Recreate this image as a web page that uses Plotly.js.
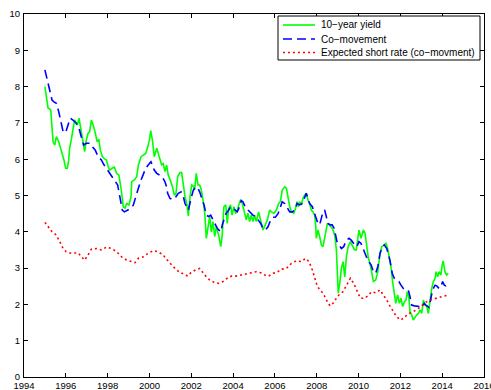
<!DOCTYPE html>
<html>
<head>
<meta charset="utf-8">
<script src="https://cdn.plot.ly/plotly-3.0.1.min.js"></script>
<style>html,body{margin:0;padding:0;background:#fff;}#chart{width:491px;height:390px;}</style>
</head>
<body>
<div id="chart"></div>
<script>
// 10-year yield (decimal year, percent)
const yieldX = [1995.00,1995.15,1995.28,1995.39,1995.47,1995.55,1995.66,1995.79,1995.91,1995.99,1996.07,1996.14,1996.18,1996.26,1996.34,1996.42,1996.55,1996.63,1996.74,1996.82,1996.90,1996.98,1997.06,1997.14,1997.22,1997.30,1997.38,1997.50,1997.58,1997.65,1997.75,1997.87,1997.94,1998.03,1998.10,1998.21,1998.32,1998.43,1998.54,1998.64,1998.75,1998.83,1998.91,1999.02,1999.12,1999.15,1999.28,1999.39,1999.47,1999.60,1999.71,1999.82,1999.92,2000.00,2000.06,2000.14,2000.23,2000.35,2000.42,2000.50,2000.58,2000.66,2000.74,2000.82,2000.90,2000.99,2001.10,2001.19,2001.27,2001.35,2001.46,2001.54,2001.62,2001.70,2001.78,2001.86,2001.94,2002.02,2002.10,2002.16,2002.24,2002.32,2002.40,2002.48,2002.56,2002.64,2002.72,2002.80,2002.88,2002.96,2003.04,2003.12,2003.20,2003.31,2003.41,2003.48,2003.56,2003.65,2003.72,2003.79,2003.88,2003.95,2004.04,2004.12,2004.20,2004.27,2004.36,2004.44,2004.52,2004.63,2004.71,2004.79,2004.87,2004.95,2005.03,2005.11,2005.22,2005.32,2005.43,2005.54,2005.64,2005.75,2005.83,2005.96,2006.07,2006.18,2006.26,2006.35,2006.47,2006.55,2006.63,2006.71,2006.79,2006.90,2006.99,2007.06,2007.12,2007.18,2007.26,2007.34,2007.42,2007.50,2007.58,2007.66,2007.74,2007.82,2007.90,2007.95,2007.98,2008.06,2008.14,2008.22,2008.30,2008.35,2008.43,2008.51,2008.59,2008.65,2008.74,2008.81,2008.87,2008.94,2008.98,2009.03,2009.10,2009.18,2009.26,2009.34,2009.42,2009.50,2009.61,2009.70,2009.81,2009.89,2009.97,2010.02,2010.12,2010.23,2010.31,2010.39,2010.47,2010.55,2010.63,2010.71,2010.82,2010.92,2011.03,2011.11,2011.23,2011.31,2011.39,2011.47,2011.55,2011.63,2011.71,2011.78,2011.87,2011.95,2012.03,2012.11,2012.19,2012.27,2012.33,2012.41,2012.46,2012.54,2012.62,2012.70,2012.78,2012.86,2012.94,2013.02,2013.10,2013.18,2013.26,2013.34,2013.42,2013.50,2013.58,2013.66,2013.71,2013.78,2013.85,2013.94,2014.00,2014.05,2014.13,2014.21,2014.29];
const yieldY = [8.00,7.41,7.36,6.48,6.39,6.62,6.48,6.25,5.98,5.75,5.75,5.98,6.30,6.53,6.80,7.08,6.94,7.13,6.76,6.44,6.21,6.53,6.71,6.76,7.08,6.95,6.80,6.48,6.55,6.25,6.07,6.00,5.98,5.79,5.70,5.75,5.78,5.61,5.56,5.20,4.69,4.65,4.78,4.74,4.97,5.38,5.43,5.52,5.84,6.07,6.12,6.16,6.34,6.53,6.79,6.53,6.07,6.30,6.16,5.98,5.85,5.88,5.66,5.84,5.56,5.43,5.24,5.01,5.06,5.52,5.63,5.63,5.24,4.97,4.78,4.44,4.97,5.29,5.26,5.15,5.61,5.29,5.29,5.15,4.88,4.55,3.82,4.19,4.42,4.00,4.28,3.87,4.14,3.91,3.59,3.91,4.69,4.74,4.23,4.65,4.74,4.46,4.69,4.50,4.60,4.74,4.88,4.78,4.60,4.33,4.51,4.28,4.46,4.28,4.46,4.28,4.55,4.28,4.05,4.19,4.33,4.60,4.55,4.51,4.60,4.78,4.83,5.15,5.24,5.20,4.92,4.69,4.55,4.51,4.65,4.83,4.69,4.83,4.74,4.92,5.01,5.06,4.88,4.78,4.60,4.55,4.46,4.19,3.82,4.05,3.87,3.64,3.59,3.73,3.91,4.23,4.19,4.14,4.10,4.00,3.87,3.50,2.76,2.31,2.58,2.99,3.18,2.76,3.31,3.59,3.73,3.64,3.50,3.50,3.77,4.05,3.82,4.05,3.96,3.59,3.27,3.13,2.81,2.63,2.67,2.90,3.41,3.59,3.64,3.68,3.54,3.30,3.04,2.63,2.31,2.03,2.26,2.03,2.17,1.94,2.07,2.12,2.35,2.17,1.80,1.71,1.57,1.66,1.71,1.75,1.85,1.75,2.12,1.98,1.95,1.75,2.12,2.44,2.63,2.72,2.90,2.76,2.90,2.81,3.09,3.20,2.90,2.81,2.86];

// Co-movement
const comoveX = [1995.00,1995.23,1995.34,1995.43,1995.55,1995.66,1995.79,1995.87,1995.99,1996.10,1996.21,1996.34,1996.50,1996.63,1996.74,1996.85,1996.98,1997.14,1997.27,1997.41,1997.54,1997.70,1997.83,1997.94,1998.06,1998.21,1998.35,1998.48,1998.54,1998.64,1998.70,1998.80,1998.96,1999.12,1999.23,1999.34,1999.47,1999.60,1999.71,1999.82,1999.94,2000.07,2000.14,2000.23,2000.35,2000.50,2000.61,2000.74,2000.82,2000.87,2000.98,2001.14,2001.25,2001.38,2001.51,2001.62,2001.70,2001.78,2001.86,2001.99,2002.10,2002.20,2002.32,2002.40,2002.51,2002.61,2002.72,2002.83,2002.93,2003.04,2003.15,2003.24,2003.31,2003.43,2003.48,2003.60,2003.67,2003.79,2003.88,2003.99,2004.10,2004.20,2004.31,2004.39,2004.47,2004.58,2004.71,2004.84,2004.95,2005.08,2005.19,2005.32,2005.43,2005.54,2005.67,2005.80,2005.91,2006.02,2006.15,2006.23,2006.35,2006.47,2006.58,2006.71,2006.83,2006.95,2007.06,2007.18,2007.31,2007.42,2007.50,2007.58,2007.66,2007.79,2007.87,2007.95,2008.03,2008.14,2008.22,2008.30,2008.38,2008.46,2008.54,2008.65,2008.74,2008.83,2008.89,2008.97,2009.06,2009.18,2009.29,2009.42,2009.54,2009.65,2009.77,2009.89,2009.96,2010.02,2010.12,2010.23,2010.34,2010.47,2010.60,2010.71,2010.82,2010.92,2011.03,2011.14,2011.23,2011.35,2011.42,2011.50,2011.61,2011.71,2011.82,2011.93,2012.03,2012.14,2012.25,2012.38,2012.46,2012.54,2012.67,2012.83,2012.94,2013.05,2013.14,2013.22,2013.31,2013.37,2013.46,2013.54,2013.66,2013.74,2013.85,2013.94,2014.02,2014.10,2014.18,2014.29];
const comoveY = [8.46,7.91,7.63,7.58,7.54,7.31,6.99,6.76,6.73,6.94,7.13,7.08,6.99,6.85,6.62,6.39,6.44,6.44,6.34,6.25,6.07,5.98,5.84,5.75,5.66,5.52,5.43,5.29,5.10,4.83,4.60,4.55,4.60,4.65,4.74,4.97,5.20,5.43,5.61,5.75,5.84,5.93,5.84,5.70,5.61,5.56,5.52,5.38,5.24,5.06,4.92,4.89,4.95,5.06,5.10,4.97,4.78,4.69,4.60,4.92,5.15,5.24,5.20,5.10,4.92,4.74,4.46,4.42,4.46,4.33,4.19,4.10,4.05,4.00,4.19,4.42,4.51,4.60,4.69,4.65,4.60,4.55,4.69,4.86,4.83,4.69,4.60,4.51,4.46,4.42,4.33,4.23,4.10,4.05,4.14,4.33,4.40,4.40,4.50,4.65,4.83,4.78,4.69,4.55,4.55,4.60,4.78,4.74,4.78,4.97,5.06,4.92,4.78,4.69,4.55,4.42,4.28,4.19,4.42,4.55,4.60,4.42,4.23,4.19,4.19,4.10,3.91,3.73,3.64,3.54,3.59,3.77,3.82,3.77,3.68,3.59,3.64,3.73,3.68,3.54,3.36,3.18,3.09,2.90,2.86,3.04,3.41,3.59,3.64,3.54,3.41,3.22,2.86,2.72,2.67,2.63,2.53,2.44,2.42,2.40,2.21,1.98,1.96,1.96,1.94,1.92,2.03,1.98,1.94,1.92,2.17,2.40,2.53,2.51,2.44,2.49,2.63,2.53,2.51,2.56];

// Expected short rate (co-movement)
const shortX = [1995.00,1995.15,1995.34,1995.55,1995.71,1995.87,1996.02,1996.26,1996.58,1996.74,1996.90,1997.06,1997.22,1997.46,1997.70,1997.95,1998.19,1998.43,1998.67,1998.91,1999.15,1999.31,1999.47,1999.71,1999.94,2000.18,2000.42,2000.66,2000.82,2000.98,2001.14,2001.30,2001.46,2001.62,2001.83,2001.99,2002.20,2002.40,2002.56,2002.72,2002.88,2003.12,2003.31,2003.52,2003.72,2003.92,2004.15,2004.39,2004.63,2004.87,2005.11,2005.32,2005.51,2005.70,2005.91,2006.10,2006.30,2006.55,2006.79,2007.02,2007.26,2007.47,2007.63,2007.79,2007.90,2008.01,2008.14,2008.30,2008.43,2008.54,2008.65,2008.78,2008.94,2009.10,2009.26,2009.42,2009.61,2009.77,2009.93,2010.08,2010.21,2010.31,2010.47,2010.63,2010.82,2011.03,2011.18,2011.35,2011.50,2011.66,2011.82,2012.03,2012.22,2012.41,2012.62,2012.78,2012.94,2013.14,2013.34,2013.53,2013.74,2013.94,2014.13,2014.29];
const shortY = [4.26,4.14,4.00,3.91,3.73,3.54,3.45,3.41,3.42,3.31,3.22,3.36,3.52,3.54,3.50,3.58,3.54,3.45,3.31,3.22,3.18,3.15,3.27,3.31,3.41,3.48,3.45,3.36,3.24,3.13,3.04,2.95,2.88,2.84,2.78,2.88,2.95,2.99,2.86,2.76,2.67,2.60,2.58,2.63,2.72,2.78,2.78,2.81,2.84,2.86,2.90,2.87,2.81,2.78,2.86,2.88,2.97,2.99,3.13,3.20,3.18,3.27,3.18,2.95,2.72,2.53,2.40,2.31,2.17,2.03,1.96,2.03,2.17,2.29,2.35,2.53,2.72,2.58,2.35,2.18,2.17,2.17,2.26,2.35,2.32,2.40,2.26,2.12,1.96,1.80,1.66,1.57,1.66,1.75,1.80,1.85,1.92,2.03,2.10,2.14,2.17,2.20,2.23,2.26];

const seriesNames = ['10\u2212year yield', 'Co\u2212movement', 'Expected short rate (co\u2212movment)'];
const seriesColors = ['#00ff00', '#0000ff', '#ff0000'];
const seriesDash = ['solid', '9px,5px', '2px,3px'];
const xTicks = [1994,1996,1998,2000,2002,2004,2006,2008,2010,2012,2014,2016];
const yTicks = [0,1,2,3,4,5,6,7,8,9,10];

const FONT = 'Liberation Sans, Arial, Helvetica, sans-serif';
const seriesData = [[yieldX, yieldY], [comoveX, comoveY], [shortX, shortY]];
const traces = seriesData.map((d, i) => ({
  x: d[0], y: d[1], name: seriesNames[i], type: 'scatter', mode: 'lines',
  line: {color: seriesColors[i], width: 1.6, dash: seriesDash[i]}
}));

// Legend box drawn in paper coordinates (plot area: px 24..484, py 14..377)
const L = 24, R = 484, T = 14, B = 377;
const px = v => (v - L) / (R - L);
const py = v => (B - v) / (B - T);
const rowY = [25, 39, 52.5];
const shapes = [{
  type: 'rect', xref: 'paper', yref: 'paper',
  x0: px(278), x1: px(480), y0: py(60), y1: py(16),
  line: {color: '#000', width: 1}, fillcolor: '#fff', layer: 'above'
}];
const annotations = [];
rowY.forEach((yy, i) => {
  shapes.push({
    type: 'line', xref: 'paper', yref: 'paper', layer: 'above',
    x0: px(283), x1: px(315), y0: py(yy), y1: py(yy),
    line: {color: seriesColors[i], width: 1.6, dash: seriesDash[i]}
  });
  annotations.push({
    xref: 'paper', yref: 'paper', x: px(318.5), y: py(yy),
    xanchor: 'left', yanchor: 'middle', showarrow: false, text: seriesNames[i],
    font: {family: FONT, size: 10, color: '#000'}
  });
});

const axisCommon = {
  showgrid: false, zeroline: false, showline: true, linecolor: '#000', linewidth: 1,
  mirror: 'allticks', ticks: 'inside', ticklen: 4, tickcolor: '#000', tickwidth: 1,
  tickfont: {family: FONT, size: 9.5, color: '#000'}
};

const layout = {
  width: 491, height: 390,
  margin: {l: 24, r: 7, t: 14, b: 13, pad: 0},
  paper_bgcolor: '#fff', plot_bgcolor: '#fff',
  showlegend: false,
  shapes: shapes,
  annotations: annotations,
  xaxis: Object.assign({}, axisCommon, {
    range: [1994, 2016], tickmode: 'array', tickvals: xTicks, ticktext: xTicks.map(String),
    ticklabeloverflow: 'allow', ticklabelstandoff: 0.01
  }),
  yaxis: Object.assign({}, axisCommon, {
    range: [0, 10], tickmode: 'array', tickvals: yTicks, ticktext: yTicks.map(String),
    ticklabelstandoff: 1
  })
};

Plotly.newPlot('chart', traces, layout, {staticPlot: true, displayModeBar: false});
</script>
</body>
</html>
